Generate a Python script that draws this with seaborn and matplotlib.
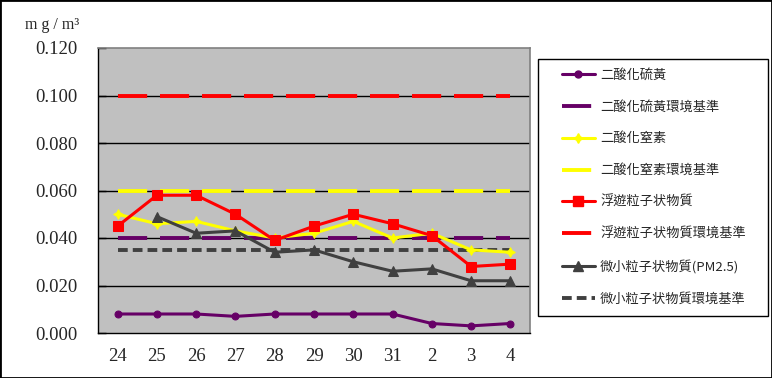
"""
大気汚染物質濃度の推移グラフ
"""
import matplotlib
matplotlib.use("Agg")
import matplotlib.pyplot as plt
import numpy as np
import pandas as pd
import seaborn as sns
from matplotlib.lines import Line2D
from matplotlib.patches import Rectangle
from matplotlib.ticker import FixedLocator

# 日付（カテゴリ）
days = ["24", "25", "26", "27", "28", "29", "30", "31", "2", "3", "4"]

# 測定値 (mg/m3)
so2 = [0.008, 0.008, 0.008, 0.007, 0.008, 0.008, 0.008, 0.008, 0.004, 0.003, 0.004]
no2 = [0.050, 0.046, 0.047, 0.043, 0.040, 0.042, 0.047, 0.040, 0.042, 0.035, 0.034]
spm = [0.045, 0.058, 0.058, 0.050, 0.039, 0.045, 0.050, 0.046, 0.041, 0.028, 0.029]
pm25 = [np.nan, 0.049, 0.042, 0.043, 0.034, 0.035, 0.030, 0.026, 0.027, 0.022, 0.022]

# 環境基準
so2_std = 0.040
no2_std = 0.060
spm_std = 0.100
pm25_std = 0.035

yticks = [0.000, 0.020, 0.040, 0.060, 0.080, 0.100, 0.120]

sns.set_style("white")
plt.rcParams["font.family"] = ["Noto Sans CJK TC", "DejaVu Sans"]

df = pd.DataFrame({"day": days, "so2": so2, "no2": no2, "spm": spm, "pm25": pm25})
n = len(days)

W, H = 772, 378
fig = plt.figure(figsize=(W / 100, H / 100), dpi=100)
ax = fig.add_axes([98 / W, 1 - 333 / H, 432 / W, 285 / H])
ax.set_facecolor("#C0C0C0")

purple = "#660066"
yellow = "#FFFF00"
red = "#FF0000"
dark = "#404040"
lw = 2.2

series = [
    ("so2", purple, "o", 5, "二酸化硫黃"),
    ("no2", yellow, (4, 1, 0), 7, "二酸化窒素"),
    ("spm", red, "s", 7, "浮遊粒子状物質"),
    ("pm25", dark, "^", 7, "微小粒子状物質(PM2.5)"),
]
standards = [
    (so2_std, purple, (7.5, 3.3), "二酸化硫黃環境基準"),
    (no2_std, yellow, (7.5, 3.3), "二酸化窒素環境基準"),
    (spm_std, red, (7.5, 3.3), "浮遊粒子状物質環境基準"),
    (pm25_std, dark, (2.5, 1.3), "微小粒子状物質環境基準"),
]

# グリッド線
for v in yticks[1:-1]:
    ax.axhline(v, color="black", lw=1, zorder=1)

handles = []
labels = []
for i, (col, c, m, ms, label) in enumerate(series):
    sns.lineplot(data=df, x="day", y=col, color=c, lw=lw, marker=m, markersize=ms,
                 markeredgecolor=c, ax=ax, zorder=3, sort=False)
    val, sc, dash, slabel = standards[i]
    sns.lineplot(x=days, y=[val] * n, color=sc, lw=lw + 0.6, ax=ax, zorder=2,
                 dashes=False, sort=False).lines[-1].set_dashes(dash)
    handles.append(Line2D([], [], color=c, lw=lw, marker=m, markersize=ms, markeredgecolor=c))
    handles.append(Line2D([], [], color=sc, lw=lw + 0.6, dashes=dash))
    labels += [label, slabel]

ax.set_xlim(-0.5, n - 0.5)
ax.set_ylim(0, 0.12)
ax.set_yticks(yticks)
ax.set_yticklabels([f"{v:.3f}" for v in yticks], family="Liberation Serif", fontsize=13.5)
ax.set_xticks(range(n))
ax.set_xticklabels(days, family="Liberation Serif", fontsize=13.5)
ax.xaxis.set_minor_locator(FixedLocator(np.arange(0.5, n - 1, 1.0)))
ax.tick_params(axis="x", which="major", length=0, pad=10.5)
ax.tick_params(axis="x", which="minor", direction="in", length=6, color="black", width=1)
ax.tick_params(axis="y", direction="in", length=6, color="black", width=1, pad=15, left=True)
ax.set_xlabel("")
ax.set_ylabel("")
for s in ["left", "bottom"]:
    ax.spines[s].set_color("black")
    ax.spines[s].set_linewidth(1)
for s in ["top", "right"]:
    ax.spines[s].set_color("#808080")
    ax.spines[s].set_linewidth(1.2)

fig.text(25 / W, 1 - 25 / H, "m g / m³", family="Liberation Serif", fontsize=11.5,
         va="center", ha="left")

# 凡例（枠は別に描く）
leg = fig.legend(handles, labels, loc="upper left", bbox_to_anchor=(562 / W, 1 - 69 / H),
                 frameon=False, fontsize=9.5, labelspacing=1.42, handlelength=2.5,
                 handletextpad=0.38, borderpad=0, borderaxespad=0)
fig.patches.append(Rectangle((538 / W, 1 - 316 / H), 230 / W, 257 / H, transform=fig.transFigure,
                             fill=False, edgecolor="black", lw=1))

fig.patches.append(Rectangle((0, 0), 1, 1, transform=fig.transFigure, fill=False,
                             edgecolor="black", lw=2))

fig.savefig("out.png", dpi=100, facecolor="white")
